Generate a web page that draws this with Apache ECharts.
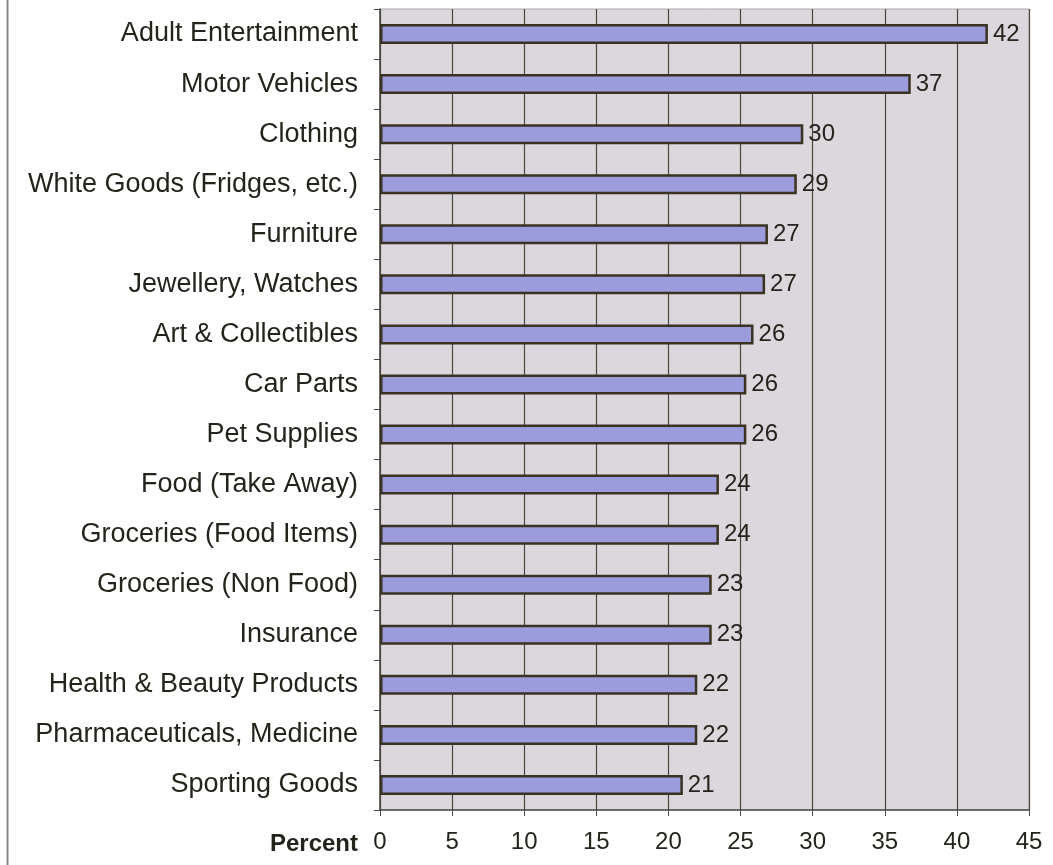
<!DOCTYPE html>
<html>
<head>
<meta charset="utf-8">
<script src="https://cdn.jsdelivr.net/npm/echarts@6/dist/echarts.min.js"></script>
<style>
  html, body { margin: 0; padding: 0; background: #fff; }
  #chart { width: 1053px; height: 865px; }
</style>
</head>
<body>
<div id="chart"></div>
<script>
// categories top to bottom
const categories = [
  "Adult Entertainment", "Motor Vehicles", "Clothing", "White Goods (Fridges, etc.)",
  "Furniture", "Jewellery, Watches", "Art & Collectibles", "Car Parts", "Pet Supplies",
  "Food (Take Away)", "Groceries (Food Items)", "Groceries (Non Food)", "Insurance",
  "Health & Beauty Products", "Pharmaceuticals, Medicine", "Sporting Goods"
];
// bar lengths
const values = [42.15, 36.8, 29.35, 28.9, 26.9, 26.7, 25.9, 25.4, 25.4, 23.5, 23.5, 23.0, 23.0, 22.0, 22.0, 21.0];
// printed labels
const labels = [42, 37, 30, 29, 27, 27, 26, 26, 26, 24, 24, 23, 23, 22, 22, 21];
const xTicks = [0, 5, 10, 15, 20, 25, 30, 35, 40, 45];

const textColor = "#24241d";
const font = "Liberation Sans, Arial, sans-serif";

const chart = echarts.init(document.getElementById("chart"));

chart.setOption({
  animation: false,
  backgroundColor: "#ffffff",
  grid: {
    left: 380, right: 24, top: 9, bottom: 55,
    show: true,
    backgroundColor: "#dcd7dc",
    borderColor: "#a8a4a8",
    borderWidth: 1
  },
  xAxis: {
    type: "value",
    min: xTicks[0],
    max: xTicks[xTicks.length - 1],
    interval: 5,
    name: "Percent",
    nameLocation: "start",
    nameGap: 22,
    nameTextStyle: {
      fontFamily: font, fontSize: 24, fontWeight: "bold", color: textColor,
      verticalAlign: "top", padding: [22, 0, 0, 0]
    },
    axisLine: { show: true, lineStyle: { color: "#4a4a44", width: 1.5 } },
    axisTick: { show: true, length: 6, lineStyle: { color: "#4a4a44" } },
    axisLabel: { fontFamily: font, fontSize: 24, color: textColor, margin: 20 },
    splitLine: { show: true, lineStyle: { color: "#48483f", width: 1.2 } }
  },
  yAxis: {
    type: "category",
    data: categories,
    inverse: true,
    axisLine: { show: true, lineStyle: { color: "#4a4a44", width: 1.5 } },
    axisTick: { show: true, length: 6, lineStyle: { color: "#4a4a44" } },
    axisLabel: { fontFamily: font, fontSize: 27, color: textColor, margin: 22 },
    splitLine: { show: false }
  },
  series: [{
    type: "bar",
    data: values,
    barWidth: 20,
    itemStyle: {
      color: "#9c9bdc",
      borderColor: "#3a3322",
      borderWidth: 2.5
    },
    label: {
      show: true,
      position: "right",
      distance: 5,
      fontFamily: font,
      fontSize: 24,
      color: textColor,
      formatter: p => String(labels[p.dataIndex])
    }
  }],
  graphic: [{
    type: "line",
    shape: { x1: 7.5, y1: 0, x2: 7.5, y2: 865 },
    style: { stroke: "#8a8a8a", lineWidth: 2 }
  }]
});
</script>
</body>
</html>
